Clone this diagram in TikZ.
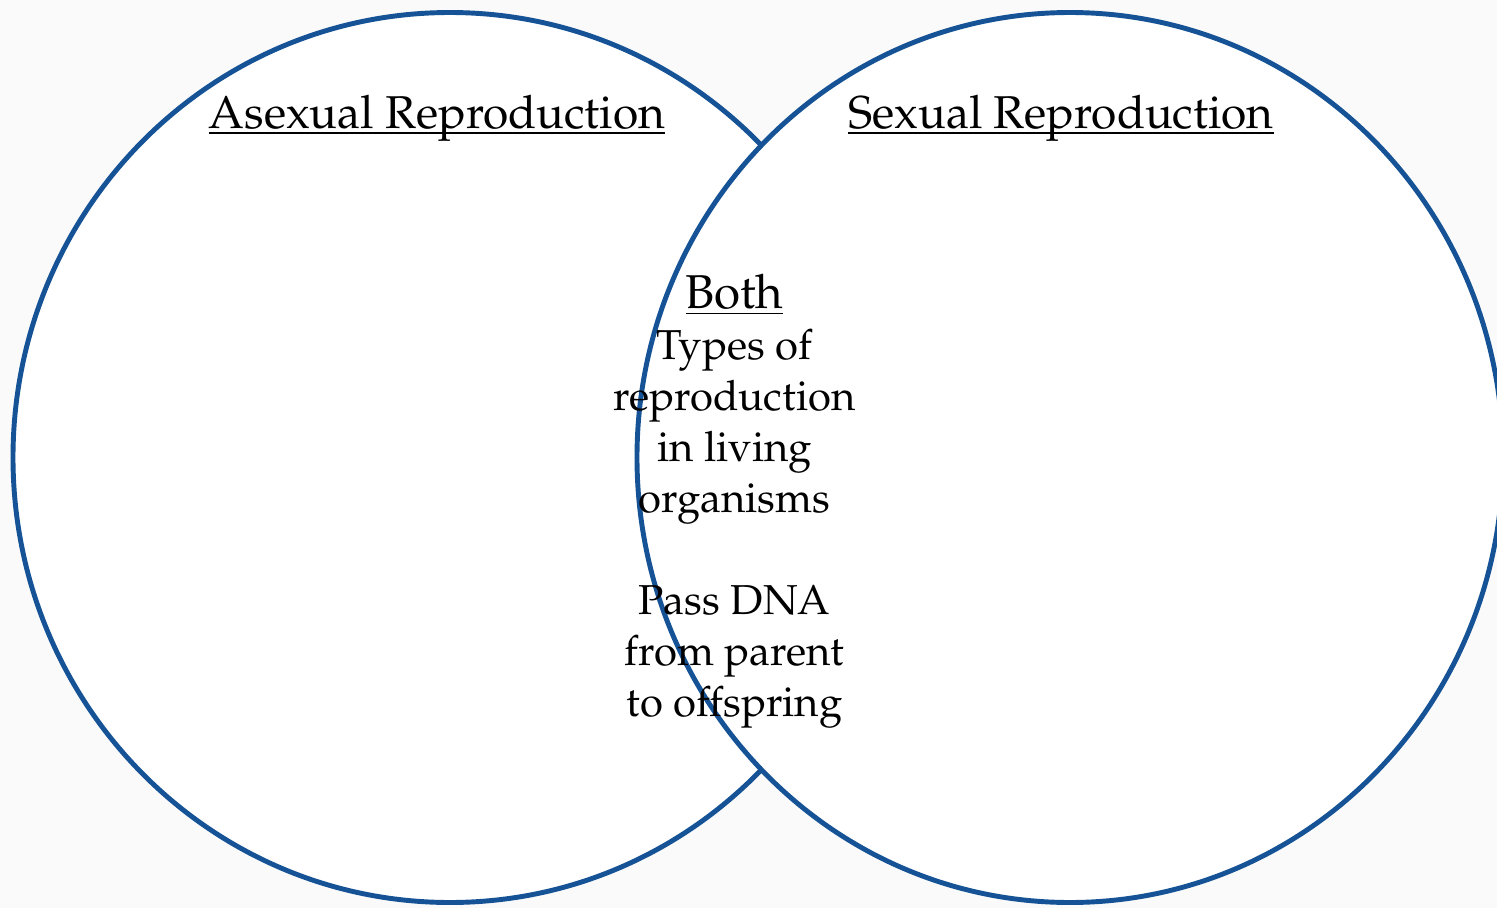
\documentclass[tikz,border=0pt]{standalone}
\usepackage[T1]{fontenc}
\renewcommand{\rmdefault}{ppl}
\usepackage{xcolor}
\usepackage{tikz}
\usetikzlibrary{backgrounds,calc}
\definecolor{vennblue}{RGB}{22,83,150}
\newcommand{\headline}[1]{\underline{\raisebox{0pt}[\height][0pt]{#1}}}

\begin{document}
\begin{tikzpicture}[
  venn/.style = {draw=vennblue, line width=1.4pt, fill=white},
  heading/.style = {anchor=base, inner sep=0pt, font=\fontsize{13.1}{15.7}\selectfont},
  bodytext/.style = {anchor=north, inner sep=0pt, align=center, font=\fontsize{11.9}{14.5}\selectfont}
]
\useasboundingbox[fill=black!2] (0,0) rectangle (14.97,9.08);
\draw[venn] (4.50,4.505) ellipse [x radius=4.37, y radius=4.45];
\draw[venn] (10.70,4.505) ellipse [x radius=4.33, y radius=4.45];
\node[heading] (asexual) at (4.37,7.80) {\headline{Asexual Reproduction}};
\node[heading] (sexual) at (10.61,7.80) {\headline{Sexual Reproduction}};
\node[bodytext] (both) at (7.345,6.345) {{\fontsize{13.5}{14.5}\selectfont\headline{Both}}\\
Types of\\
reproduction\\
in living\\
organisms\\
\\
Pass DNA\\
from parent\\
to offspring};
\end{tikzpicture}
\end{document}
